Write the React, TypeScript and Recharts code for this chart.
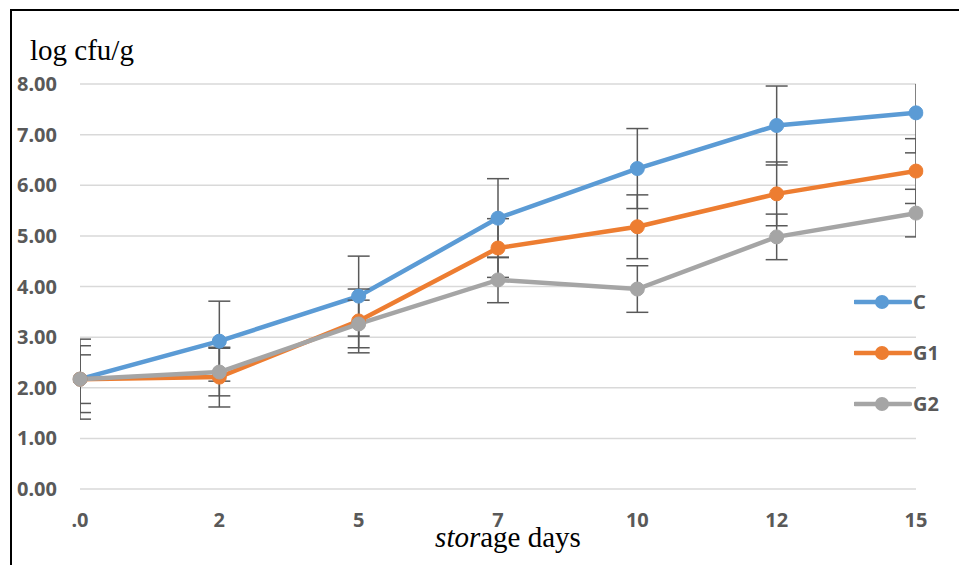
import {CartesianGrid, ErrorBar, Label, Legend, Line, LineChart, XAxis, YAxis} from "recharts";

const days = [".0", "2", "5", "7", "10", "12", "15"];
const cValues = [2.17, 2.92, 3.81, 5.35, 6.33, 7.18, 7.43];
const g1Values = [2.17, 2.21, 3.32, 4.76, 5.18, 5.83, 6.28];
const g2Values = [2.17, 2.31, 3.26, 4.13, 3.95, 4.98, 5.45];
const cErrors = [0.79, 0.79, 0.79, 0.78, 0.79, 0.78, 0.79];
const g1Errors = [0.66, 0.59, 0.63, 0.58, 0.63, 0.63, 0.64];
const g2Errors = [0.48, 0.47, 0.47, 0.45, 0.46, 0.45, 0.47];
const yTicks = [0, 1, 2, 3, 4, 5, 6, 7, 8];

const chartData = days.map((day, i) => ({
    day,
    c: cValues[i],
    g1: g1Values[i],
    g2: g2Values[i],
    cErr: cErrors[i],
    g1Err: g1Errors[i],
    g2Err: g2Errors[i],
}));

const tickFont = {fontFamily: "'Noto Sans', sans-serif", fontWeight: 700, fontSize: 20, fill: "#595959"};
const errColor = "#595959";

function LegendContent({payload}: any) {
    return (
        <div>
            {(payload || []).map((entry: any) => (
                <div key={entry.value} style={{display: "flex", alignItems: "center", height: 51}}>
                    <svg width={58} height={16}>
                        <line x1={1} y1={8} x2={56} y2={8} stroke={entry.color} strokeWidth={4.5} strokeLinecap="round"/>
                        <circle cx={28} cy={8} r={7} fill={entry.color}/>
                    </svg>
                    <span style={{...tickFont, color: "#595959", marginLeft: 1, lineHeight: "20px"}}>{entry.value}</span>
                </div>
            ))}
        </div>
    );
}

const series = [
    {key: "c", err: "cErr", name: "C", color: "#5B9BD5"},
    {key: "g1", err: "g1Err", name: "G1", color: "#ED7D31"},
    {key: "g2", err: "g2Err", name: "G2", color: "#A5A5A5"},
];

export default function App() {
    return (
        <div style={{position: "absolute", left: 0, top: 0, width: 959, height: 565, overflow: "hidden", background: "#fff"}}>
            <div style={{position: "absolute", left: 10, top: 9, width: 1000, height: 600, borderLeft: "2px solid #000", borderTop: "2px solid #000"}}/>
            <div style={{position: "absolute", left: 0, top: 0}}>
                <LineChart width={959} height={565} data={chartData} margin={{top: 84, right: 43, left: 10, bottom: 46}}>
                    <CartesianGrid vertical={false} stroke="#d9d9d9" strokeWidth={1.5}/>
                    <XAxis dataKey="day" allowDataOverflow axisLine={false} tickLine={false} tickSize={0} tickMargin={24} height={30}
                           tick={tickFont} interval={0}>
                        <Label
                            content={({viewBox}: any) => (
                                <text x={viewBox.x + viewBox.width / 2 + 10} y={viewBox.y + 58} textAnchor="middle"
                                      fontFamily="'Liberation Serif', serif" fontSize={29} fill="#000">
                                    <tspan fontStyle="italic">stor</tspan>
                                    <tspan>age days</tspan>
                                </text>
                            )}
                        />
                    </XAxis>
                    <YAxis domain={[0, 8]} ticks={yTicks} allowDataOverflow axisLine={false} tickLine={false} tickSize={0} tickMargin={23}
                           width={70} tick={tickFont} tickFormatter={(v: number) => v.toFixed(2)}>
                        <Label
                            content={({viewBox}: any) => (
                                <text x={viewBox.x + 20} y={viewBox.y - 24} fontFamily="'Liberation Serif', serif" fontSize={29} fill="#000">
                                    log cfu/g
                                </text>
                            )}
                        />
                    </YAxis>
                    <Legend layout="vertical" align="center" verticalAlign="middle" content={<LegendContent/>}
                            wrapperStyle={{left: 854, top: 276, width: 100}}/>
                    {series.map((s) => (
                        <Line key={s.key} id={`line-${s.key}`} dataKey={s.key} name={s.name} stroke={s.color} strokeWidth={4.5}
                              dot={{r: 7, fill: s.color, stroke: s.color, strokeWidth: 1, clipDot: false}}
                              activeDot={false} isAnimationActive={false}>
                            <ErrorBar dataKey={s.err} width={11} stroke={errColor} strokeWidth={1.5} direction="y"
                                      clipPath={`url(#clipPath-line-${s.key})`}/>
                        </Line>
                    ))}
                </LineChart>
            </div>
        </div>
    );
}
